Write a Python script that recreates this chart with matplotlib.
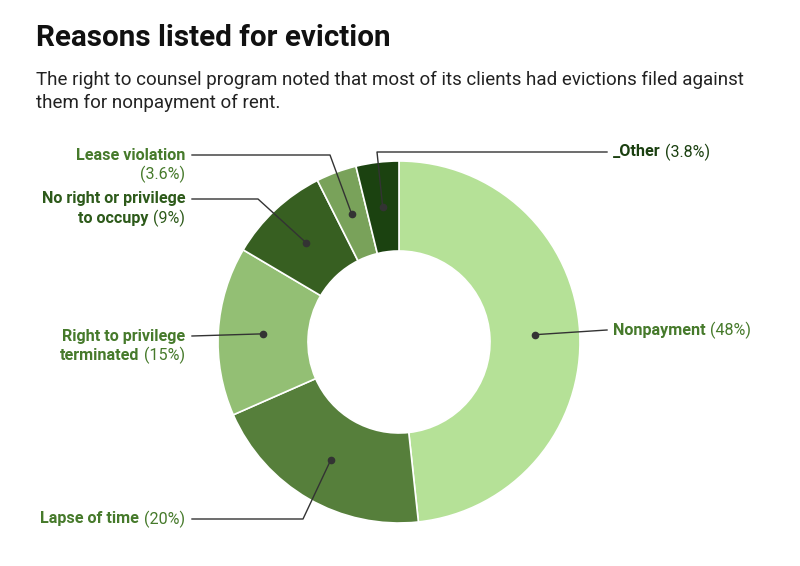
import numpy as np
import matplotlib
matplotlib.use("Agg")
import matplotlib.pyplot as plt

plt.rcParams['font.family'] = ['Roboto', 'DejaVu Sans']

# data, clockwise from 12 o'clock
names = ["Nonpayment", "Lapse of time", "Right to privilege\nterminated",
         "No right or privilege\nto occupy", "Lease violation", "_Other"]
values = [48, 20, 15, 9, 3.6, 3.8]
pct_labels = ["(48%)", "(20%)", "(15%)", "(9%)", "(3.6%)", "(3.8%)"]
colors = ["#b5e197", "#567f3b", "#93bf74", "#375f21", "#79a25a", "#1b4210"]
text_colors = ["#467a2b", "#467a2b", "#467a2b", "#2d5a1a", "#467a2b", "#1b4010"]

W, H = 800, 566
fig = plt.figure(figsize=(8, 5.66), dpi=100)
ax = fig.add_axes([0, 0, 1, 1])

cx, cy = 399, H - 342
R, r = 181, 91
wedges, _ = ax.pie(values, colors=colors, startangle=90, counterclock=False,
                   radius=R, center=(cx, cy),
                   wedgeprops=dict(width=R - r, edgecolor="white", linewidth=1.2))
ax.set_xlim(0, W)
ax.set_ylim(0, H)
ax.set_aspect("equal")
ax.axis("off")

fig.text(36 / W, 1 - 38 / H, "Reasons listed for eviction", fontsize=21.3,
         fontweight="bold", va="center", ha="left", color="#111111")
fig.text(36 / W, 1 - 80 / H, "The right to counsel program noted that most of its clients had evictions filed against",
         fontsize=13.5, va="center", ha="left", color="#222222")
fig.text(36 / W, 1 - 103 / H, "them for nonpayment of rent.",
         fontsize=13.5, va="center", ha="left", color="#222222")

# label anchor (x, y of first line), side, and leader path (elbow point or None)
label_pos = [(613, 330, "left", None),
             (185, 519, "right", (303, 519)),
             (185, 336, "right", None),
             (185, 199, "right", (258, 199)),
             (185, 155, "right", (330, 155)),
             (613, 152, "left", (377, 152))]

renderer = fig.canvas.get_renderer()
fs = 11.6
lh = 19
gap = 4.5

for w, name, pct, tc, (lx, ly, side, elbow) in zip(wedges, names, pct_labels, text_colors, label_pos):
    mid = np.deg2rad((w.theta1 + w.theta2) / 2)
    rm = (R + r) / 2
    dx, dy = cx + rm * np.cos(mid), cy + rm * np.sin(mid)
    ax.plot(dx, dy, "o", color="#333333", ms=4.5, zorder=5)

    lines = name.split("\n")
    if side == "left":
        t = ax.text(lx, H - ly, lines[0], fontsize=fs, fontweight="bold", color=tc,
                    ha="left", va="center")
        bb = t.get_window_extent(renderer)
        ax.text(bb.x1 + gap, H - ly, pct, fontsize=fs, color=tc, ha="left", va="center")
        start = (lx - 6, H - ly)
    else:
        if name == "Lapse of time":
            rows = [(lines[0], pct)]
        elif len(lines) == 1:
            rows = [(lines[0], None), ("", pct)]
        else:
            rows = [(lines[0], None), (lines[1], pct)]
        for i, (bold, p) in enumerate(rows):
            y = H - (ly + i * lh)
            x_right = lx
            if p:
                t = ax.text(x_right, y, p, fontsize=fs, color=tc, ha="right", va="center")
                bb = t.get_window_extent(renderer)
                x_right = bb.x0 - gap
            if bold:
                ax.text(x_right, y, bold, fontsize=fs, fontweight="bold", color=tc,
                        ha="right", va="center")
        start = (lx + 7, H - ly)

    if elbow is None:
        xs, ys = [start[0], dx], [start[1], dy]
    else:
        xs, ys = [start[0], elbow[0], dx], [start[1], H - elbow[1], dy]
    ax.plot(xs, ys, color="#333333", lw=1, zorder=4)

fig.savefig("out.png", dpi=100)
